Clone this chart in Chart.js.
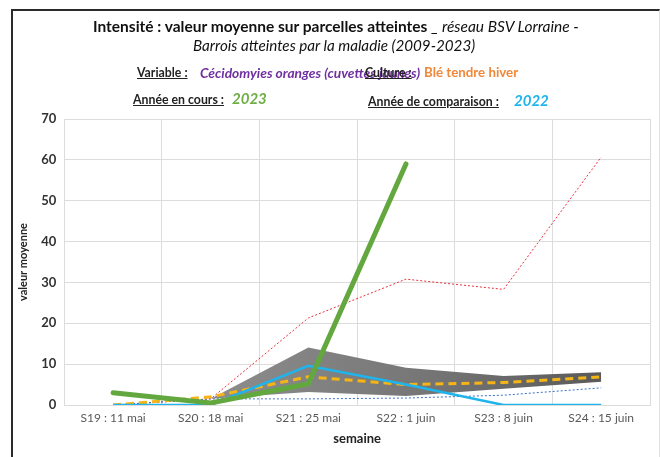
<!DOCTYPE html>
<html>
<head>
<meta charset="utf-8">
<script src="https://cdn.jsdelivr.net/npm/chart.js@4"></script>
<style>
  body { margin: 0; background: #fff; font-family: 'Lato', sans-serif; }
  #wrap { position: relative; width: 660px; height: 457px; overflow: hidden; }
  #frame { position: absolute; left: 11px; top: 9px; width: 646px; height: 460px;
           border-top: 2px solid #2a2a2a; border-left: 2px solid #2a2a2a; border-right: 1px solid #e2e2e2; }
  canvas { position: absolute; left: 0; top: 0; }
  .t { position: absolute; white-space: nowrap; line-height: 1; }
  .lbl { font-weight: bold; text-decoration: underline; font-size: 12.3px; color: #222; }
</style>
</head>
<body>
<div id="wrap">
  <div id="frame"></div>
  <canvas id="chart" width="660" height="457"></canvas>
  <div class="t" style="left:93px; top:19px; font-size:15.5px; color:#111;"><b>Intensité : valeur moyenne sur parcelles atteintes</b> <i>_ réseau BSV Lorraine -</i></div>
  <div class="t" style="left:193px; top:38px; font-size:15.2px; color:#111;"><i>Barrois atteintes par la maladie (2009-2023)</i></div>
  <div class="t lbl" style="left:137px; top:67px;">Variable :</div>
  <div class="t" style="left:200px; top:66px; font-size:13.8px; font-weight:bold; font-style:italic; color:#7030a0;">Cécidomyies oranges (cuvettes jaunes)</div>
  <div class="t lbl" style="left:365px; top:67px;">Culture :</div>
  <div class="t" style="left:424px; top:66px; font-size:13.3px; font-weight:bold; color:#f0883a;">Blé tendre hiver</div>
  <div class="t lbl" style="left:133px; top:94px;">Année en cours :</div>
  <div class="t" style="left:232px; top:91px; font-size:15px; font-weight:bold; font-style:italic; color:#6fae45;">2023</div>
  <div class="t lbl" style="left:368px; top:96px;">Année de comparaison :</div>
  <div class="t" style="left:514px; top:93px; font-size:15px; font-weight:bold; font-style:italic; color:#1fb4ec;">2022</div>
</div>
<script>
// Semaines d'observation
const semaines = ['S19 : 11 mai', 'S20 : 18 mai', 'S21 : 25 mai', 'S22 : 1 juin', 'S23 : 8 juin', 'S24 : 15 juin'];

// Valeurs
const annee2023 = [3, 0.5, 5.2, 59, null, null];
const annee2022 = [0, 0, 9.6, 5.0, 0, 0];
const moyenne = [0, 2, 6.9, 5.0, 5.5, 6.9];
const maximum = [0, 1.5, 21.3, 30.8, 28.3, 60.7];
const minimum = [0, 1.5, 1.5, 1.7, 2.4, 4.2];
const bandeHaute = [null, 1.5, 14.1, 9.1, 7.1, 8.0];
const bandeBasse = [null, 1.5, 3.2, 2.2, 4.0, 5.7];

const yTicks = [0, 10, 20, 30, 40, 50, 60, 70];

Chart.defaults.font.family = "'Lato', sans-serif";
Chart.defaults.color = '#404040';

// Dégradé du fond gris (plus sombre vers la droite)
function bandGradient(context) {
    const area = context.chart.chartArea;
    if (!area) return '#808080';
    const g = context.chart.ctx.createLinearGradient(area.left, 0, area.right, 0);
    g.addColorStop(0.3, '#8a8a8a');
    g.addColorStop(0.6, '#777777');
    g.addColorStop(0.95, '#575757');
    return g;
}

const ctx = document.getElementById('chart').getContext('2d');
new Chart(ctx, {
    type: 'line',
    data: {
        labels: semaines,
        datasets: [
            {
                label: 'Bande basse',
                data: bandeBasse,
                borderWidth: 0,
                pointRadius: 0,
                fill: false,
                order: 10
            },
            {
                label: 'Bande haute',
                data: bandeHaute,
                borderWidth: 0,
                pointRadius: 0,
                backgroundColor: bandGradient,
                fill: '-1',
                order: 9
            },
            {
                label: 'Maximum',
                data: maximum,
                borderColor: '#e8303a',
                borderWidth: 1,
                borderDash: [2, 2],
                pointRadius: 0,
                order: 6
            },
            {
                label: 'Minimum',
                data: minimum,
                borderColor: '#3d6fc0',
                borderWidth: 1,
                borderDash: [2, 2],
                pointRadius: 0,
                order: 5
            },
            {
                label: 'Moyenne',
                data: moyenne,
                borderColor: '#f5b516',
                borderWidth: 3,
                borderDash: [8, 5],
                pointRadius: 0,
                order: 4
            },
            {
                label: '2022',
                data: annee2022,
                borderColor: '#1fb4ec',
                borderWidth: 2.5,
                pointRadius: 0,
                order: 3
            },
            {
                label: '2023',
                data: annee2023,
                borderColor: '#62a83f',
                borderWidth: 5,
                borderCapStyle: 'round',
                pointRadius: 0,
                order: 2
            }
        ]
    },
    options: {
        responsive: false,
        animation: false,
        layout: { padding: { top: 119, left: 12, right: 10, bottom: 6 } },
        plugins: {
            legend: { display: false },
            tooltip: { enabled: false }
        },
        scales: {
            x: {
                offset: true,
                grid: { offset: true, color: '#dcdcdc', drawTicks: false },
                border: { color: '#dcdcdc' },
                ticks: { padding: 6, color: '#595959', font: { size: 12 } },
                title: { display: true, text: 'semaine', color: '#222', font: { size: 13, weight: 'bold' }, padding: { top: 0 } }
            },
            y: {
                min: 0,
                max: 70,
                afterBuildTicks: axis => { axis.ticks = yTicks.map(v => ({ value: v })); },
                grid: { color: '#dcdcdc', drawTicks: false },
                border: { color: '#dcdcdc' },
                ticks: { padding: 8, color: '#333', font: { size: 13, weight: 'bold' } },
                title: { display: true, text: 'valeur moyenne', color: '#222', font: { size: 11, weight: 'bold' }, padding: { top: 5, bottom: 3 } }
            }
        }
    }
});
</script>
</body>
</html>
